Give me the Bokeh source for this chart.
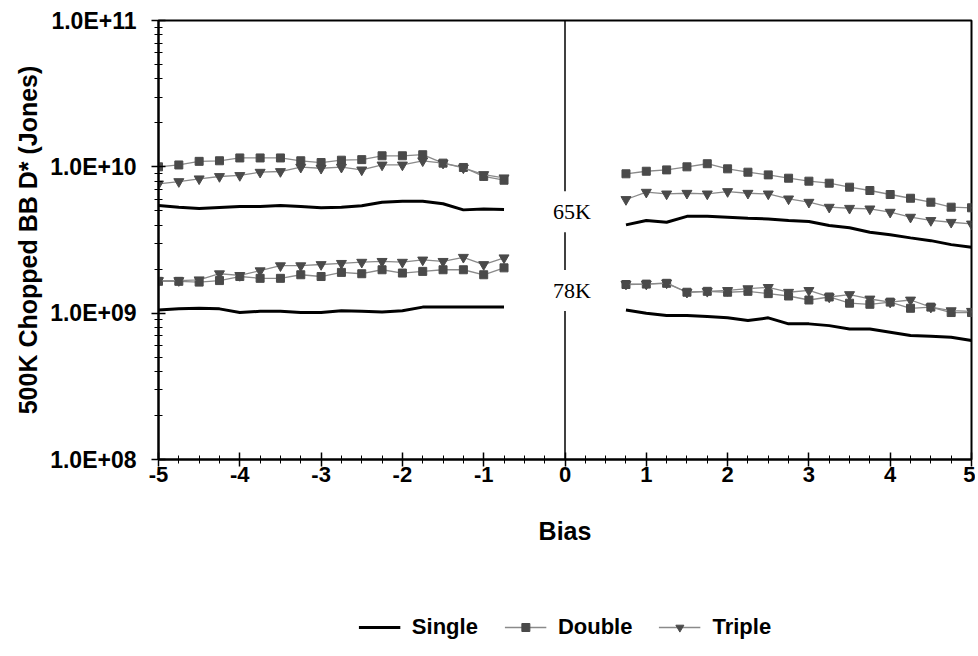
import math
from bokeh.plotting import figure
from bokeh.layouts import column
from bokeh.models import (ColumnDataSource, FixedTicker, CustomJSTickFormatter, Span, Label,
                          Legend, LegendItem, Range1d)
from bokeh.embed import file_html
from bokeh.resources import INLINE

# ---------------- data ----------------
bias_neg = [-5.0, -4.75, -4.5, -4.25, -4.0, -3.75, -3.5, -3.25, -3.0,
            -2.75, -2.5, -2.25, -2.0, -1.75, -1.5, -1.25, -1.0, -0.75]
bias_pos = [0.75, 1.0, 1.25, 1.5, 1.75, 2.0, 2.25, 2.5, 2.75,
            3.0, 3.25, 3.5, 3.75, 4.0, 4.25, 4.5, 4.75, 5.0]

# 65K
single_65_neg = [5.44e9, 5.30e9, 5.19e9, 5.27e9, 5.35e9, 5.35e9, 5.44e9, 5.35e9, 5.25e9,
                 5.30e9, 5.42e9, 5.73e9, 5.82e9, 5.82e9, 5.59e9, 5.08e9, 5.16e9, 5.11e9]
double_65_neg = [1.00e10, 1.03e10, 1.09e10, 1.10e10, 1.15e10, 1.15e10, 1.15e10, 1.10e10, 1.07e10,
                 1.11e10, 1.12e10, 1.19e10, 1.19e10, 1.21e10, 1.06e10, 9.9e9, 8.6e9, 8.1e9]
triple_65_neg = [7.65e9, 7.93e9, 8.28e9, 8.59e9, 8.73e9, 9.19e9, 9.29e9, 9.94e9, 9.78e9,
                 9.94e9, 9.53e9, 1.03e10, 1.03e10, 1.10e10, 1.06e10, 9.84e9, 8.86e9, 8.41e9]
single_65_pos = [4.01e9, 4.30e9, 4.18e9, 4.59e9, 4.59e9, 4.53e9, 4.46e9, 4.40e9, 4.30e9,
                 4.23e9, 3.97e9, 3.83e9, 3.57e9, 3.43e9, 3.27e9, 3.13e9, 2.94e9, 2.82e9]
double_65_pos = [8.96e9, 9.33e9, 9.53e9, 1.00e10, 1.05e10, 9.69e9, 9.19e9, 8.81e9, 8.36e9,
                 7.98e9, 7.73e9, 7.26e9, 6.89e9, 6.47e9, 6.10e9, 5.73e9, 5.30e9, 5.25e9]
triple_65_pos = [5.98e9, 6.71e9, 6.53e9, 6.60e9, 6.53e9, 6.78e9, 6.60e9, 6.53e9, 6.04e9,
                 5.73e9, 5.30e9, 5.21e9, 5.16e9, 4.90e9, 4.53e9, 4.30e9, 4.18e9, 4.07e9]

# 78K
single_78_neg = [1.05e9, 1.07e9, 1.08e9, 1.07e9, 1.01e9, 1.03e9, 1.03e9, 1.01e9, 1.01e9,
                 1.04e9, 1.03e9, 1.02e9, 1.04e9, 1.10e9, 1.10e9, 1.10e9, 1.10e9, 1.10e9]
double_78_neg = [1.65e9, 1.65e9, 1.63e9, 1.67e9, 1.78e9, 1.73e9, 1.73e9, 1.83e9, 1.78e9,
                 1.90e9, 1.86e9, 1.98e9, 1.88e9, 1.93e9, 1.98e9, 1.98e9, 1.83e9, 2.04e9]
triple_78_neg = [1.67e9, 1.67e9, 1.69e9, 1.86e9, 1.81e9, 1.95e9, 2.11e9, 2.11e9, 2.15e9,
                 2.19e9, 2.23e9, 2.26e9, 2.23e9, 2.31e9, 2.26e9, 2.41e9, 2.15e9, 2.39e9]
single_78_pos = [1.05e9, 1.00e9, 9.63e8, 9.63e8, 9.48e8, 9.29e8, 8.90e8, 9.29e8, 8.45e8,
                 8.45e8, 8.22e8, 7.80e8, 7.80e8, 7.41e8, 7.03e8, 6.95e8, 6.84e8, 6.50e8]
double_78_pos = [1.57e9, 1.58e9, 1.60e9, 1.39e9, 1.41e9, 1.39e9, 1.41e9, 1.36e9, 1.31e9,
                 1.23e9, 1.29e9, 1.17e9, 1.15e9, 1.19e9, 1.08e9, 1.10e9, 1.01e9, 1.01e9]
triple_78_pos = [1.58e9, 1.58e9, 1.61e9, 1.39e9, 1.41e9, 1.43e9, 1.47e9, 1.50e9, 1.39e9,
                 1.43e9, 1.29e9, 1.34e9, 1.25e9, 1.19e9, 1.23e9, 1.10e9, 1.04e9, 1.03e9]

y_ticks = [1e8, 1e9, 1e10, 1e11]
x_ticks = [-5, -4, -3, -2, -1, 0, 1, 2, 3, 4, 5]
temp_labels = ["65K", "78K"]
temp_label_y = [4.94e9, 1.43e9]
series_names = ["Single", "Double", "Triple"]

# ---------------- styles ----------------
FONT = "Liberation Sans"
LINE_GRAY = "#8a8a8a"
MARK = "#4a4a4a"
STYLE = {
    "Single": dict(line=dict(line_color="black", line_width=3), marker=None),
    "Double": dict(line=dict(line_color=LINE_GRAY, line_width=1.3),
                   marker=dict(marker="square", size=8, fill_color=MARK, line_color=MARK)),
    "Triple": dict(line=dict(line_color=LINE_GRAY, line_width=1.3),
                   marker=dict(marker="inverted_triangle", size=10, fill_color=MARK, line_color=MARK)),
}

# ---------------- main figure ----------------
p = figure(width=975, height=600, y_axis_type="log", x_range=(-5, 5), y_range=(1e8, 1e11),
           output_backend="svg", toolbar_location=None,
           min_border_left=158, min_border_right=4, min_border_top=20, min_border_bottom=141)
p.xgrid.visible = False
p.ygrid.visible = False
p.outline_line_color = "black"
p.outline_line_width = 2
p.background_fill_color = "white"
p.border_fill_color = "white"

nan = float("nan")
series_data = {
    "Single": [(single_65_neg, single_65_pos), (single_78_neg, single_78_pos)],
    "Double": [(double_65_neg, double_65_pos), (double_78_neg, double_78_pos)],
    "Triple": [(triple_65_neg, triple_65_pos), (triple_78_neg, triple_78_pos)],
}
sources = {}
for name in series_names:
    sources[name] = []
    for neg, pos in series_data[name]:
        s = ColumnDataSource(dict(x=bias_neg + [nan] + bias_pos, y=neg + [nan] + pos))
        sources[name].append(s)
        p.line("x", "y", source=s, **STYLE[name]["line"])
        if STYLE[name]["marker"]:
            p.scatter("x", "y", source=s, **STYLE[name]["marker"])

# vertical line at zero bias with temperature labels
p.add_layout(Span(location=0, dimension="height", line_color="black", line_width=1.5))
for txt, yv in zip(temp_labels, temp_label_y):
    p.add_layout(Label(x=0, y=yv, text=txt, x_offset=7, text_align="center",
                       text_baseline="middle", text_font="Liberation Serif",
                       text_font_size="22px", text_color="black",
                       background_fill_color="white", padding=8))

p.xaxis.ticker = FixedTicker(ticks=x_ticks,
                             minor_ticks=[i * 0.25 - 5 for i in range(41)])
p.xaxis.formatter = CustomJSTickFormatter(code="return tick.toFixed(0);")
p.xaxis.axis_label = "Bias"
p.yaxis.ticker = FixedTicker(ticks=y_ticks,
                             minor_ticks=[k * 10.0 ** e for e in (8, 9, 10) for k in range(2, 10)])
p.yaxis.formatter = CustomJSTickFormatter(code="""
const parts = tick.toExponential(1).split('e');
const sign = parts[1][0];
const d = parts[1].slice(1).padStart(2, '0');
return parts[0] + 'E' + sign + d;
""")
p.yaxis.axis_label = "500K Chopped BB D* (Jones)"

for ax in (p.xaxis[0], p.yaxis[0]):
    ax.axis_line_width = 2
    ax.axis_line_color = "black"
    ax.major_tick_line_color = "black"
    ax.minor_tick_line_color = "black"
    ax.major_tick_line_width = 1.5
    ax.minor_tick_line_width = 1
    ax.major_tick_in = 7
    ax.major_tick_out = 7
    ax.minor_tick_in = 4
    ax.minor_tick_out = 4
    ax.major_label_text_font = FONT
    ax.major_label_text_font_style = "bold"
    ax.major_label_text_font_size = "23px"
    ax.major_label_text_color = "black"
    ax.axis_label_text_font = FONT
    ax.axis_label_text_font_style = "bold"
    ax.axis_label_text_font_size = "25px"
    ax.axis_label_text_color = "black"

p.xaxis.major_label_text_font_size = "22px"
p.xaxis.major_label_standoff = 0
p.xaxis.axis_label_standoff = 32
p.yaxis.major_label_standoff = 15
p.yaxis.axis_label_standoff = 5

# ---------------- legend strip ----------------
# renderers reuse the real data sources; the strip's ranges keep them out of view
q = figure(width=975, height=54, x_range=Range1d(100, 101), y_range=Range1d(100, 101),
           output_backend="svg", toolbar_location=None,
           x_axis_location=None, y_axis_location=None,
           min_border_left=118, min_border_right=0, min_border_top=0, min_border_bottom=0)
q.xgrid.visible = False
q.ygrid.visible = False
q.outline_line_color = None
items = []
for name in series_names:
    s = sources[name][0]
    rs = [q.line("x", "y", source=s, **STYLE[name]["line"])]
    if STYLE[name]["marker"]:
        rs.append(q.scatter("x", "y", source=s, **STYLE[name]["marker"]))
    items.append(LegendItem(label=name, renderers=rs))
legend = Legend(items=items, orientation="horizontal", location="center",
                border_line_color=None, background_fill_alpha=0,
                label_text_font=FONT, label_text_font_style="bold",
                label_text_font_size="22px", label_text_color="black",
                glyph_width=42, label_standoff=12, spacing=26, padding=2, margin=0)
q.add_layout(legend, "center")

layout = column(p, q, spacing=0)
open("out.html", "w").write(file_html(layout, INLINE))
